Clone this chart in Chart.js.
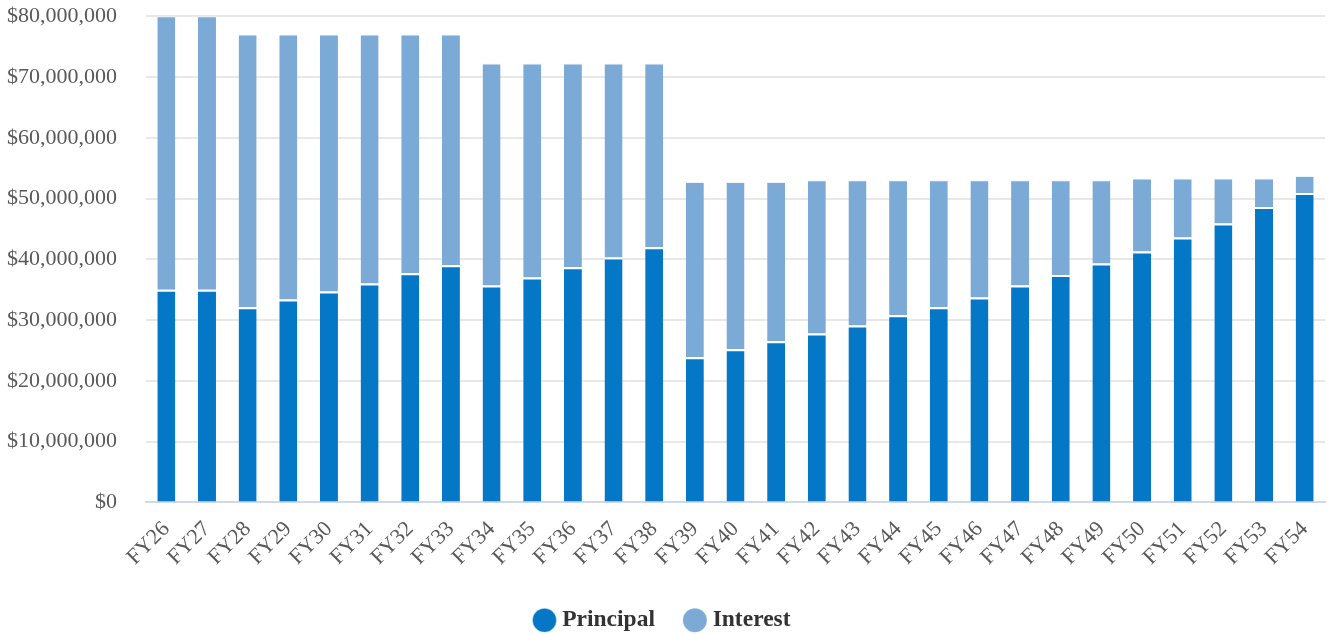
<!DOCTYPE html>
<html lang="en">
<head>
  <meta charset="UTF-8" />
  <title>Debt Service Schedule</title>
  <script src="https://cdn.jsdelivr.net/npm/chart.js"></script>
  <style>
    html, body {
      margin: 0;
      padding: 0;
      background: #fff;
    }
    .chart-box {
      position: relative;
      width: 1328px;
      height: 634px;
    }
  </style>
</head>
<body>
  <div class="chart-box">
    <canvas id="debtChart"></canvas>
  </div>

  <script>
    // fiscal years
    const years = ['FY26', 'FY27', 'FY28', 'FY29', 'FY30', 'FY31', 'FY32', 'FY33', 'FY34', 'FY35',
                   'FY36', 'FY37', 'FY38', 'FY39', 'FY40', 'FY41', 'FY42', 'FY43', 'FY44', 'FY45',
                   'FY46', 'FY47', 'FY48', 'FY49', 'FY50', 'FY51', 'FY52', 'FY53', 'FY54'];

    // annual principal payments ($)
    const principal = [35000000, 35000000, 32100000, 33400000, 34700000, 36000000, 37700000, 39000000,
                       35700000, 37000000, 38700000, 40300000, 42000000, 23900000, 25200000, 26500000,
                       27800000, 29100000, 30800000, 32100000, 33700000, 35700000, 37400000, 39300000,
                       41300000, 43600000, 45900000, 48600000, 50900000];

    // annual interest payments ($)
    const interest = [45000000, 45000000, 44900000, 43600000, 42300000, 41000000, 39300000, 38000000,
                      36500000, 35200000, 33500000, 31900000, 30200000, 28800000, 27500000, 26200000,
                      25200000, 23900000, 22200000, 20900000, 19300000, 17300000, 15600000, 13700000,
                      12000000, 9700000, 7400000, 4700000, 2800000];

    const yTicks = { min: 0, max: 80000000, step: 10000000 };

    const serif = "'Liberation Serif', 'Times New Roman', serif";

    new Chart(document.getElementById('debtChart'), {
      type: 'bar',
      data: {
        labels: years,
        datasets: [
          {
            label: 'Principal',
            data: principal,
            backgroundColor: '#0477c6',
            borderColor: 'rgba(255,255,255,0.9)',
            borderWidth: { top: 2, left: 0, right: 0, bottom: 0 },
            borderSkipped: false,
            barPercentage: 0.443,
            categoryPercentage: 1
          },
          {
            label: 'Interest',
            data: interest,
            backgroundColor: '#7caad6',
            borderColor: 'rgba(235,243,251,0.9)',
            borderWidth: { top: 1, left: 0, right: 0, bottom: 0 },
            borderSkipped: false,
            barPercentage: 0.443,
            categoryPercentage: 1
          }
        ]
      },
      options: {
        responsive: true,
        maintainAspectRatio: false,
        animation: false,
        layout: {
          padding: { left: 4, right: 3, top: 0, bottom: -8 }
        },
        scales: {
          x: {
            stacked: true,
            grid: { display: false, drawTicks: false },
            border: { display: true, color: '#cfd9eb', width: 2 },
            ticks: {
              color: '#595959',
              font: { family: serif, size: 22 },
              maxRotation: 45,
              minRotation: 45,
              autoSkip: false,
              padding: 14
            },
            // labels slant down-left, so no room is needed on the right;
            // let them hang a little into the legend's top margin
            afterFit(scale) {
              scale.paddingRight = 0;
              scale.height -= 10;
            }
          },
          y: {
            stacked: true,
            min: yTicks.min,
            max: yTicks.max,
            // invisible tick marks keep the labels clear of the plot area
            grid: { color: '#e8e8e8', lineWidth: 2, drawTicks: true, tickLength: 26, tickColor: 'rgba(0,0,0,0)' },
            border: { display: false },
            ticks: {
              stepSize: yTicks.step,
              color: '#595959',
              font: { family: serif, size: 22 },
              padding: 3,
              callback: v => '$' + v.toLocaleString('en-US')
            }
          }
        },
        plugins: {
          legend: {
            position: 'bottom',
            labels: {
              usePointStyle: true,
              pointStyle: 'circle',
              boxWidth: 12,
              boxHeight: 17,
              color: '#333',
              padding: 34,
              font: { family: serif, size: 23.5, weight: 'bold' }
            }
          },
          tooltip: { enabled: false }
        }
      }
    });
  </script>
</body>
</html>
